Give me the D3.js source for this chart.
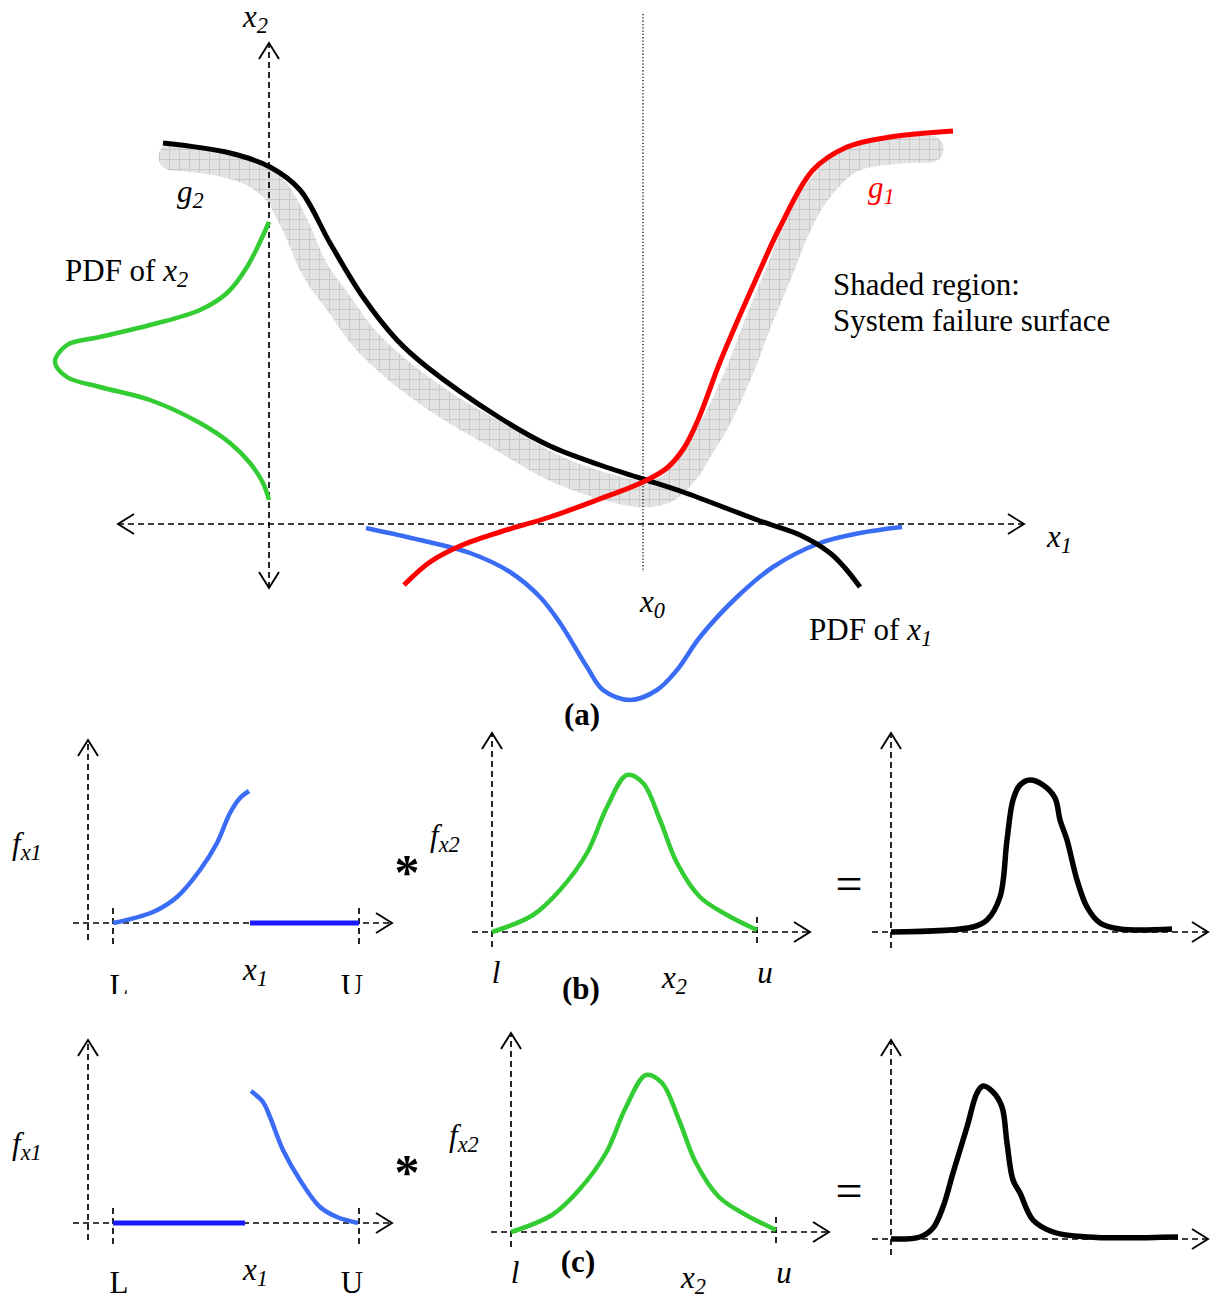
<!DOCTYPE html>
<html>
<head>
<meta charset="utf-8">
<script src="https://cdn.jsdelivr.net/npm/d3@7"></script>
<style>
  html, body { margin: 0; padding: 0; background: #fff; }
  svg { display: block; }
  text { font-family: 'Liberation Serif', 'Times New Roman', serif; fill: #000; }
</style>
</head>
<body>
<div id="chart"></div>
<script>
// ─── Data (abstract units, origin = axis crossing of each panel) ───────────────

// (a) limit-state curves and PDFs in the x1–x2 plane
const g2Curve = [[-10.6,38.1],[-3.9,37.1],[0.1,35.7],[3.1,33.4],[6.1,28.1],[9.4,22.7],[12.8,18.4],[15.8,15.7],
  [23.1,10.6],[28.1,7.8],[33.1,5.9],[37.4,4.5],[41.4,3.2],[49.1,0.3],[53.1,-1.1],[56.1,-2.9],[57.6,-4.4],[59.1,-6.3]]
const g1Curve = [[13.5,-6.1],[16.1,-3.8],[19.1,-2.2],[23.1,-0.8],[28.1,0.7],[32.8,2.4],[37.4,4.2],[39.8,5.6],
  [41.5,7.6],[42.9,10.4],[45.1,16.2],[47.1,20.9],[49.1,25.4],[51.1,29.7],[54.4,35.4],[57.8,37.7],[62.1,38.7],[68.4,39.3]]
const pdfX1 = [[9.7,-0.4],[15.1,-1.6],[20.1,-2.9],[24.1,-4.8],[27.1,-7.3],[29.1,-9.9],[31.8,-14.3],[33.4,-16.6],
  [36.1,-17.6],[38.8,-16.6],[40.8,-14.6],[43.1,-11.3],[46.8,-7.3],[50.4,-4.3],[55.1,-1.9],[59.1,-0.9],[63.3,-0.3]]
const pdfX2 = [[0,30.2],[-2.2,25.7],[-4.2,23.1],[-6.9,21.4],[-11.9,19.9],[-16.9,18.7],[-20.2,17.9],[-21.4,16.2],
  [-20.2,14.7],[-16.9,13.7],[-11.9,12.4],[-6.9,10.1],[-3.9,8.1],[-1.9,6.1],[-0.6,4.1],[0,2.4]]
const failureBand = [[-9.7,36.7],[-5.2,36.2],[-1.9,35.2],[0.6,33.4],[2.6,29.9],[4.6,25.4],[7.1,21.9],[9.4,18.7],
  [13.1,15.2],[18.1,11.6],[23.1,8.7],[28.1,5.8],[33.1,3.9],[37.4,3.0],[39.6,3.4],[41.6,5.2],[43.1,7.6],[44.8,10.4],
  [47.1,15.4],[49.1,20.6],[51.1,25.4],[52.7,29.4],[54.6,32.9],[58.1,36.4],[62.1,37.3],[66.1,37.5]]
const x0 = 37.4

// (b) truncated PDF of x1 (left tail), PDF of x2, and their convolution
const fx1Left = [[2.5,0],[6.5,1.1],[8.9,2.6],[11.2,5.3],[12.9,8.0],[14.2,11.0],[15.2,12.5],[16.1,13.2]]
const fx1LeftZero = [[16.2,0],[27.1,0]]
const fx2 = [[0,0],[4.1,1.7],[6.8,4.2],[9.5,7.9],[11.5,12.5],[13.5,15.7],[15.1,14.9],[16.8,11.2],
  [18.5,6.9],[20.8,3.5],[23.5,1.7],[26.5,0.2]]
const convB = [[0,0],[8.2,0.5],[9.6,1.2],[10.9,3.5],[11.6,9.2],[12.2,13.2],[12.9,14.7],[13.9,15.2],[15.2,14.7],
  [16.4,13.4],[16.9,11.2],[17.6,9.2],[18.6,5.2],[19.6,2.5],[20.9,0.9],[22.9,0.3],[28.1,0.3]]

// (c) truncated PDF of x1 (right tail) and the convolution
const fx1Right = [[16.3,13.2],[17.5,12.1],[18.2,10.6],[19.5,7.3],[21.2,4.3],[23.2,1.6],[24.9,0.6],[27.0,0]]
const fx1RightZero = [[2.5,0],[15.7,0]]
const convC = [[0,0],[2.9,0.2],[4.2,1.1],[5.2,3.2],[6.2,6.6],[7.6,11.2],[8.6,14.6],[9.2,15.3],[10.2,14.7],
  [11.1,13.2],[11.6,9.6],[12.2,5.9],[12.9,4.6],[14.2,1.9],[16.2,0.7],[19.6,0.2],[28.7,0.2]]

const boundsX1 = [2.5, 27.1]   // L, U
const boundsX2 = [0, 26.5]     // l, u

// ─── Setup ────────────────────────────────────────────────────────────────────
const W = 1219, H = 1296
const FS = 31
const BLUE = '#3b6cf6', DEEP_BLUE = '#1a1aff', GREEN = '#33cc33', RED = '#ff0000'

const svg = d3.select('#chart').append('svg').attr('width', W).attr('height', H)
const defs = svg.append('defs')

const pat = defs.append('pattern').attr('id', 'grid')
  .attr('patternUnits', 'userSpaceOnUse').attr('width', 10).attr('height', 10)
pat.append('rect').attr('width', 10).attr('height', 10).attr('fill', '#e3e3e3')
pat.append('path').attr('d', 'M9.5 0V10M0 9.5H10').attr('stroke', '#c9c9c9').attr('stroke-width', 1)

defs.append('clipPath').attr('id', 'clipB')
  .append('rect').attr('x', 0).attr('y', 0).attr('width', W).attr('height', 994)

// panel scales: 1 unit = 10px, origin at the axis crossing
function frame(ox, oy) {
  return {
    x: d3.scaleLinear().domain([0, 10]).range([ox, ox + 100]),
    y: d3.scaleLinear().domain([0, 10]).range([oy, oy - 100]),
  }
}

function curve(g, f, pts, color, width) {
  const line = d3.line()
    .x(d => f.x(d[0])).y(d => f.y(d[1]))
    .curve(d3.curveCatmullRom.alpha(0.5))
  return g.append('path').attr('d', line(pts))
    .attr('fill', 'none').attr('stroke', color).attr('stroke-width', width)
    .attr('stroke-linecap', 'butt').attr('stroke-linejoin', 'round')
}

// dashed line with open chevron head(s)
function arrow(g, ax, ay, bx, by, heads) {
  g.append('line').attr('x1', ax).attr('y1', ay).attr('x2', bx).attr('y2', by)
    .attr('stroke', '#000').attr('stroke-width', 1.7).attr('stroke-dasharray', '6,4')
  const chevron = (tx, ty, dx, dy) => {
    const len = Math.hypot(dx, dy), ux = dx / len, uy = dy / len
    const bxp = tx - ux * 16, byp = ty - uy * 16
    g.append('path')
      .attr('d', `M${bxp - uy * 10},${byp + ux * 10}L${tx},${ty}L${bxp + uy * 10},${byp - ux * 10}`)
      .attr('fill', 'none').attr('stroke', '#000').attr('stroke-width', 1.9)
  }
  if (heads.includes('end')) chevron(bx, by, bx - ax, by - ay)
  if (heads.includes('start')) chevron(ax, ay, ax - bx, ay - by)
}

function vdash(g, x, y1, y2) {
  g.append('line').attr('x1', x).attr('x2', x).attr('y1', y1).attr('y2', y2)
    .attr('stroke', '#000').attr('stroke-width', 1.7).attr('stroke-dasharray', '6,4')
}

// text with italic variable and subscript
function sym(g, x, y, main, sub, opts = {}) {
  const size = opts.size || FS
  const t = g.append('text').attr('x', x).attr('y', y)
    .attr('font-size', size).attr('font-style', 'italic')
    .style('fill', opts.color || '#000')
  t.append('tspan').text(main)
  t.append('tspan').attr('font-size', size * 0.72).attr('dy', size * 0.2).text(sub)
  return t
}

function plain(g, x, y, str, opts = {}) {
  return g.append('text').attr('x', x).attr('y', y)
    .attr('font-size', opts.size || FS)
    .attr('font-weight', opts.weight || 'normal')
    .attr('font-style', opts.style || 'normal')
    .attr('text-anchor', opts.anchor || 'start')
    .text(str)
}

// ─── (a) Main panel ──────────────────────────────────────────────────────────
const A = frame(269, 524)
const ga = svg.append('g')

// shaded failure surface
curve(ga, A, failureBand, 'url(#grid)', 27).attr('stroke-linecap', 'round')

// axes
arrow(ga, A.x(-15.1), A.y(0), A.x(75.5), A.y(0), ['start', 'end'])
arrow(ga, A.x(0), A.y(-6.4), A.x(0), A.y(48.1), ['start', 'end'])
ga.append('line').attr('x1', A.x(x0)).attr('x2', A.x(x0)).attr('y1', A.y(51)).attr('y2', A.y(-4.8))
  .attr('stroke', '#000').attr('stroke-width', 1.2).attr('stroke-dasharray', '1.3,2')

curve(ga, A, pdfX2, GREEN, 4.5)
curve(ga, A, pdfX1, BLUE, 4.5)
curve(ga, A, g2Curve, '#000', 5)
curve(ga, A, g1Curve, RED, 5)

sym(ga, 243, 27, 'x', '2')
sym(ga, 1047, 547, 'x', '1')
sym(ga, 640, 612, 'x', '0')
sym(ga, 177, 202, 'g', '2')
sym(ga, 868, 198, 'g', '1', { color: RED })

const pdf2 = plain(ga, 65, 281, 'PDF of ')
pdf2.append('tspan').attr('font-style', 'italic').text('x')
pdf2.append('tspan').attr('font-style', 'italic').attr('font-size', FS * 0.72).attr('dy', 6).text('2')
const pdf1 = plain(ga, 809, 640, 'PDF of ')
pdf1.append('tspan').attr('font-style', 'italic').text('x')
pdf1.append('tspan').attr('font-style', 'italic').attr('font-size', FS * 0.72).attr('dy', 6).text('1')

plain(ga, 833, 295, 'Shaded region:')
plain(ga, 833, 331, 'System failure surface')
plain(ga, 582, 725, '(a)', { weight: 'bold', anchor: 'middle' })

// ─── Small panels ────────────────────────────────────────────────────────────
function fx1Panel(ox, oy, pts, zero, clip, labelY) {
  const f = frame(ox, oy)
  const g = svg.append('g')
  arrow(g, f.x(0), f.y(-1.7), f.x(0), f.y(18.3), ['end'])
  arrow(g, f.x(-1.5), f.y(0), f.x(30.4), f.y(0), ['end'])
  boundsX1.forEach(b => vdash(g, f.x(b), f.y(1.5), f.y(-2.5)))
  curve(g, f, pts, BLUE, 4.5)
  curve(g, f, zero, DEEP_BLUE, 5)
  sym(g, ox - 76, oy - 69, 'f', 'x1', { size: 31 })
  sym(g, ox + 155, oy + 57, 'x', '1')
  const lab = g.append('g')
  if (clip) lab.attr('clip-path', 'url(#clipB)')
  plain(lab, f.x(boundsX1[0]) + 6, labelY, 'L', { anchor: 'middle' })
  plain(lab, f.x(boundsX1[1]) - 7, labelY, 'U', { anchor: 'middle' })
  plain(g, 407, oy - 34, '*', { size: 50, weight: 'bold', anchor: 'middle' })
}

function fx2Panel(ox, oy) {
  const f = frame(ox, oy)
  const g = svg.append('g')
  arrow(g, f.x(0), f.y(-1.5), f.x(0), f.y(19.9), ['end'])
  arrow(g, f.x(-2), f.y(0), f.x(31.8), f.y(0), ['end'])
  vdash(g, f.x(boundsX2[1]), f.y(1.5), f.y(-1.5))
  curve(g, f, fx2, GREEN, 4.5)
  sym(g, ox - 62, oy - 86, 'f', 'x2', { size: 31 })
  plain(g, f.x(boundsX2[0]) + 4, oy + 51, 'l', { style: 'italic', anchor: 'middle' })
  plain(g, f.x(boundsX2[1]) + 8, oy + 51, 'u', { style: 'italic', anchor: 'middle' })
  sym(g, ox + 170, oy + 56, 'x', '2')
}

function convPanel(ox, oy, pts) {
  const f = frame(ox, oy)
  const g = svg.append('g')
  arrow(g, f.x(0), f.y(-1.6), f.x(0), f.y(19.9), ['end'])
  arrow(g, f.x(-1.9), f.y(0), f.x(31.7), f.y(0), ['end'])
  curve(g, f, pts, '#000', 5.5)
  plain(g, 849, oy - 32, '=', { size: 48, anchor: 'middle' })
}

// (b)
fx1Panel(88, 923, fx1Left, fx1LeftZero, true, 996)
fx2Panel(492, 932)
convPanel(891, 932, convB)
plain(svg, 581, 999, '(b)', { weight: 'bold', anchor: 'middle' })

// (c)
fx1Panel(88, 1223, fx1Right, fx1RightZero, false, 1293)
fx2Panel(511, 1232)
convPanel(891, 1239, convC)
plain(svg, 578, 1272, '(c)', { weight: 'bold', anchor: 'middle' })
</script>
</body>
</html>
